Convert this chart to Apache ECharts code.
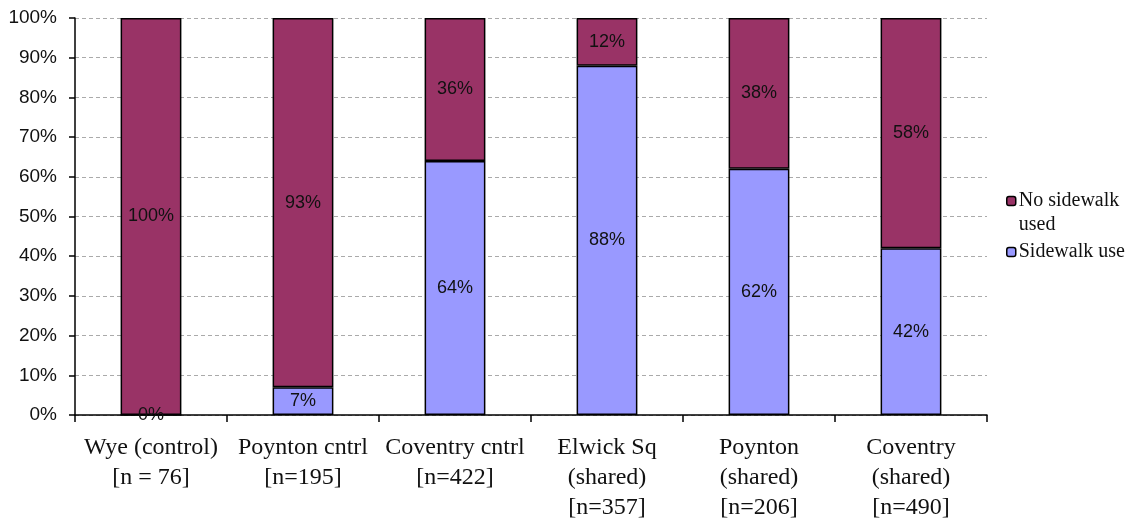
<!DOCTYPE html>
<html><head><meta charset="utf-8">
<script src="https://cdn.jsdelivr.net/npm/echarts@6/dist/echarts.min.js"></script>
<style>html,body{margin:0;padding:0;background:#fff}#c{width:1139px;height:525px}</style>
</head><body><div id="c"></div>
<script>
const categories = ["Wye (control)\n[n = 76]", "Poynton cntrl\n[n=195]", "Coventry cntrl\n[n=422]", "Elwick Sq\n(shared)\n[n=357]", "Poynton\n(shared)\n[n=206]", "Coventry\n(shared)\n[n=490]"];
const sidewalkUse = [0, 7, 64, 88, 62, 42];
const noSidewalk = [100, 93, 36, 12, 38, 58];
const seriesNames = ['No sidewalk\nused', 'Sidewalk use'];

const chart = echarts.init(document.getElementById('c'), null, {renderer: 'canvas'});
const lbl = {show: true, position: 'inside', formatter: p => p.value + '%', color: '#111', fontFamily: 'Liberation Sans, Arial', fontSize: 18};
chart.setOption({
  animation: false,
  grid: {left: 75, right: 152, top: 18, bottom: 110, containLabel: false},
  legend: {
    orient: 'vertical', left: 1001, top: 160, itemWidth: 9, itemHeight: 9, itemGap: 3,
    data: seriesNames,
    formatter: name => name === seriesNames[0] ? ' \n' + name : name,
    textStyle: {fontFamily: 'Liberation Serif, Times New Roman', fontSize: 20, color: '#111', lineHeight: 24, padding: [0, 0, 0, -2]},
    itemStyle: {borderColor: '#000', borderWidth: 1.5}
  },
  xAxis: {
    type: 'category', data: categories,
    axisLine: {lineStyle: {color: '#000', width: 1.5}},
    axisTick: {show: true, length: 7, lineStyle: {color: '#000', width: 1.5}},
    axisLabel: {fontFamily: 'Liberation Serif, Times New Roman', fontSize: 24, color: '#111', lineHeight: 30, margin: 18, interval: 0}
  },
  yAxis: {
    type: 'value', min: 0, max: 100, interval: 10,
    axisLine: {show: true, lineStyle: {color: '#000', width: 1.5}},
    axisTick: {show: true, length: 6, lineStyle: {color: '#000', width: 1.5}},
    axisLabel: {formatter: v => v + '%', fontFamily: 'Liberation Sans, Arial', fontSize: 19, color: '#111', margin: 18},
    splitLine: {show: true, lineStyle: {color: '#aaa', type: [4, 3], width: 1}}
  },
  series: [
    {name: seriesNames[1], type: 'bar', stack: 's', data: sidewalkUse, barWidth: '40%',
     itemStyle: {color: '#9999ff', borderColor: '#000', borderWidth: 1.5}, label: lbl},
    {name: seriesNames[0], type: 'bar', stack: 's', data: noSidewalk, barWidth: '40%',
     itemStyle: {color: '#993366', borderColor: '#000', borderWidth: 1.5}, label: lbl}
  ]
});
</script></body></html>
